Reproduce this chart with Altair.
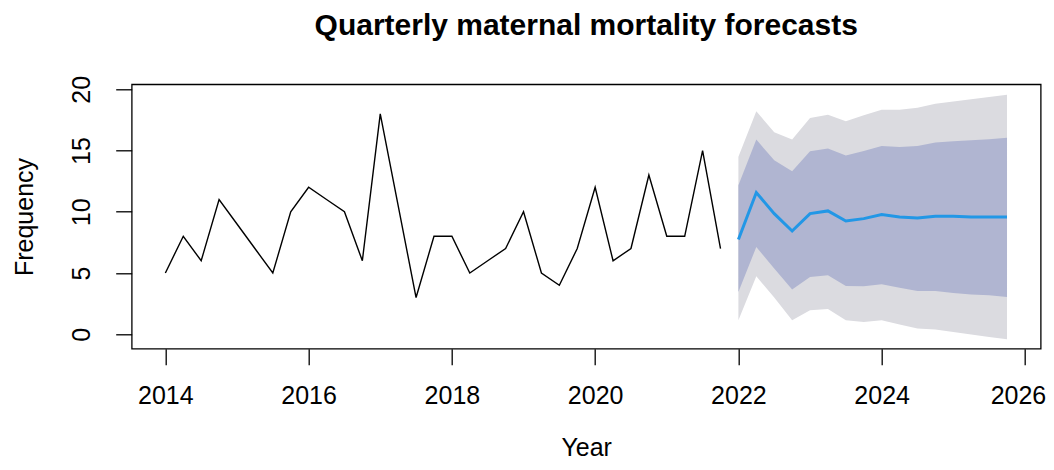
import altair as alt
import pandas as pd

# Historical quarterly series (2014 Q1 .. 2021 Q4)
hist_years = [2014, 2015, 2016, 2017, 2018, 2019, 2020, 2021]
hist_values = [5, 8, 6, 11,
               9, 7, 5, 10,
               12, 11, 10, 6,
               18, 10.5, 3, 8,
               8, 5, 6, 7,
               10, 5, 4, 7,
               12, 6, 7, 13,
               8, 8, 15, 7]

# Forecast (2022 Q1 .. 2025 Q4)
fc_years = [2022, 2023, 2024, 2025]
fc_mean = [7.73, 11.57, 9.85, 8.43, 9.85, 10.07, 9.25, 9.44,
           9.77, 9.58, 9.50, 9.63, 9.63, 9.58, 9.58, 9.58]
fc_lo80 = [3.45, 7.13, 5.36, 3.65, 4.68, 4.82, 3.95, 3.92,
           4.08, 3.80, 3.54, 3.54, 3.37, 3.24, 3.18, 3.05]
fc_hi80 = [12.16, 15.90, 14.20, 13.30, 14.94, 15.16, 14.60, 14.97,
           15.37, 15.30, 15.37, 15.65, 15.76, 15.84, 15.92, 16.05]
fc_lo95 = [1.14, 4.73, 3.00, 1.14, 1.96, 2.07, 1.14, 1.00,
           1.14, 0.79, 0.46, 0.38, 0.19, -0.03, -0.22, -0.41]
fc_hi95 = [14.50, 18.20, 16.50, 15.90, 17.66, 17.93, 17.40, 17.88,
           18.34, 18.34, 18.50, 18.83, 19.00, 19.18, 19.37, 19.56]

x_ticks = [2014, 2016, 2018, 2020, 2022, 2024, 2026]
y_ticks = [0, 5, 10, 15, 20]

quarters = [0.0, 0.25, 0.5, 0.75]
hist_t = [y + q for y in hist_years for q in quarters]
fc_t = [y + q for y in fc_years for q in quarters]

hist_df = pd.DataFrame({"t": hist_t, "v": hist_values})
fc_df = pd.DataFrame({"t": fc_t, "mean": fc_mean, "lo80": fc_lo80, "hi80": fc_hi80,
                      "lo95": fc_lo95, "hi95": fc_hi95})

FONT = "Liberation Sans"
W = 909
H = 264.4

xscale = alt.Scale(domain=[2013.53, 2026.22], nice=False, zero=False)
yscale = alt.Scale(domain=[-1.18, 20.41], nice=False, zero=False)

xaxis = alt.Axis(values=x_ticks, format="d", title="Year", grid=False, domain=False,
                 tickSize=16, tickColor="black", tickWidth=1.3,
                 labelFont=FONT, labelFontSize=25, labelColor="black", labelPadding=18.5,
                 labelOffset={"condition": {"test": "datum.value == 2026", "value": -7}, "value": 0},
                 titleFont=FONT, titleFontSize=25, titleFontWeight="normal", titleColor="black",
                 titleBaseline="alphabetic", titleAlign="center", titleX=W / 2, titleY=106.5)
yaxis = alt.Axis(values=y_ticks, format="d", title="Frequency", grid=False, domain=False,
                 tickSize=16, tickColor="black", tickWidth=1.3,
                 labelFont=FONT, labelFontSize=25, labelColor="black", labelAngle=270,
                 labelAlign="center", labelBaseline="alphabetic", labelPadding=25.7,
                 titleFont=FONT, titleFontSize=25, titleFontWeight="normal", titleColor="black",
                 titleAngle=270, titleBaseline="alphabetic", titleAlign="center",
                 titleX=-98.7, titleY=H / 2)

base_fc = alt.Chart(fc_df)

outer = base_fc.mark_area(color="#DBDBE0", opacity=1).encode(
    x=alt.X("t:Q", scale=xscale, axis=xaxis),
    y=alt.Y("lo95:Q", scale=yscale, axis=yaxis),
    y2="hi95:Q",
)
inner = base_fc.mark_area(color="#B0B5D1", opacity=1).encode(
    x=alt.X("t:Q", scale=xscale),
    y=alt.Y("lo80:Q", scale=yscale),
    y2="hi80:Q",
)
mean_line = base_fc.mark_line(color="#2297E6", strokeWidth=3).encode(
    x=alt.X("t:Q", scale=xscale),
    y=alt.Y("mean:Q", scale=yscale),
)
hist_line = alt.Chart(hist_df).mark_line(color="black", strokeWidth=1.4).encode(
    x=alt.X("t:Q", scale=xscale),
    y=alt.Y("v:Q", scale=yscale),
)

chart = alt.layer(outer, inner, mean_line, hist_line).properties(
    width=W,
    height=H,
    background="white",
    title=alt.TitleParams(
        text="Quarterly maternal mortality forecasts",
        font=FONT, fontSize=30, fontWeight="bold", color="black",
        anchor="middle", frame="group", offset=34,
    ),
    autosize=alt.AutoSizeParams(type="none"),
    padding={"left": 123.7, "top": 76.3, "right": 5, "bottom": 112.3},
).configure_view(
    stroke="black", strokeWidth=1.3, fill="white"
)

chart.save("out.html", embed_options={"renderer": "svg", "actions": False})
